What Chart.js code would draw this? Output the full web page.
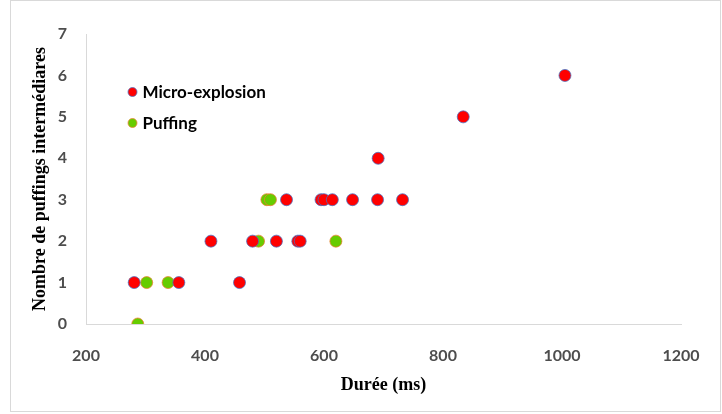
<!DOCTYPE html>
<html>
<head>
<meta charset="utf-8">
<script src="https://cdn.jsdelivr.net/npm/chart.js@4.4.0/dist/chart.umd.min.js"></script>
<style>
  html, body { margin: 0; padding: 0; background: #fff; }
  #wrap { position: relative; width: 722px; height: 414px; }
</style>
</head>
<body>
<div id="wrap"><canvas id="scatterChart" width="722" height="414"></canvas></div>
<script>
// --- DATA ---
const seriesNames = ['Micro-explosion', 'Puffing'];
const microDuree = [281, 356, 458, 410, 480, 520, 556, 560, 537, 595, 600, 614, 648, 690, 732, 691, 834, 1005];
const microNombre = [1, 1, 1, 2, 2, 2, 2, 2, 3, 3, 3, 3, 3, 3, 3, 4, 5, 6];
const puffDuree = [287, 302, 338, 490, 620, 504, 510];
const puffNombre = [0, 1, 1, 2, 2, 3, 3];
const xTicks = [200, 400, 600, 800, 1000, 1200];
const yTicks = [0, 1, 2, 3, 4, 5, 6, 7];

const toPoints = (xs, ys) => xs.map((x, i) => ({ x: x, y: ys[i] }));

// --- PLUGINS ---
const framePlugin = {
    id: 'frame',
    beforeDraw(chart) {
        const c = chart.ctx;
        c.save();
        c.fillStyle = '#fff';
        c.fillRect(0, 0, chart.width, chart.height);
        c.strokeStyle = '#d9d9d9';
        c.lineWidth = 1;
        c.strokeRect(10.5, 0.5, 710, 411);
        c.restore();
    }
};

const insideLegend = {
    id: 'insideLegend',
    afterDraw(chart) {
        const c = chart.ctx;
        const area = chart.chartArea;
        c.save();
        c.font = 'bold 17px Lato';
        c.textBaseline = 'middle';
        chart.data.datasets.forEach((ds, i) => {
            const x = area.left + 46.5;
            const y = area.top + 58 + i * 31;
            c.beginPath();
            c.arc(x, y, 4.5, 0, Math.PI * 2);
            c.fillStyle = ds.backgroundColor;
            c.fill();
            c.lineWidth = 0.75;
            c.strokeStyle = ds.borderColor;
            c.stroke();
            c.fillStyle = '#000';
            c.fillText(ds.label, x + 10, y + 1);
        });
        c.restore();
    }
};

// --- CHART ---
const tickFont = { family: 'Lato', size: 16, weight: 'bold' };
const titleFont = { family: 'Liberation Serif', size: 18, weight: 'bold' };

new Chart(document.getElementById('scatterChart'), {
    type: 'scatter',
    data: {
        datasets: [
            { label: seriesNames[0], data: toPoints(microDuree, microNombre), backgroundColor: '#ff0000', borderColor: '#4472c4', borderWidth: 0.75, pointRadius: 6, pointHoverRadius: 6 },
            { label: seriesNames[1], data: toPoints(puffDuree, puffNombre), backgroundColor: '#66cc00', borderColor: '#ed7d31', borderWidth: 0.75, pointRadius: 6, pointHoverRadius: 6 }
        ]
    },
    options: {
        responsive: false,
        animation: false,
        layout: { padding: { left: 0, top: 34, right: 41, bottom: 0 } },
        plugins: { legend: { display: false }, tooltip: { enabled: false } },
        scales: {
            x: {
                type: 'linear', min: xTicks[0], max: xTicks[xTicks.length - 1],
                afterBuildTicks: s => { s.ticks = xTicks.map(v => ({ value: v })); },
                afterFit: s => { s.height = 90; },
                grid: { display: false, drawTicks: false },
                border: { display: true, color: '#d9d9d9', width: 1 },
                ticks: { color: '#4d4d4d', font: tickFont, padding: 22, callback: v => String(v) },
                title: { display: true, text: 'Durée (ms)', color: '#000', font: titleFont, padding: { top: 0, bottom: 18 } }
            },
            y: {
                type: 'linear', min: yTicks[0], max: yTicks[yTicks.length - 1],
                afterBuildTicks: s => { s.ticks = yTicks.map(v => ({ value: v })); },
                afterFit: s => { s.width = 86; },
                grid: { display: false, drawTicks: false },
                border: { display: true, color: '#d9d9d9', width: 1 },
                ticks: { color: '#4d4d4d', font: tickFont, padding: 19, callback: v => String(v) },
                title: { display: true, text: 'Nombre de puffings intermédiares', color: '#000', font: titleFont, padding: { top: 30, bottom: 0 } }
            }
        }
    },
    plugins: [framePlugin, insideLegend]
});
</script>
</body>
</html>
